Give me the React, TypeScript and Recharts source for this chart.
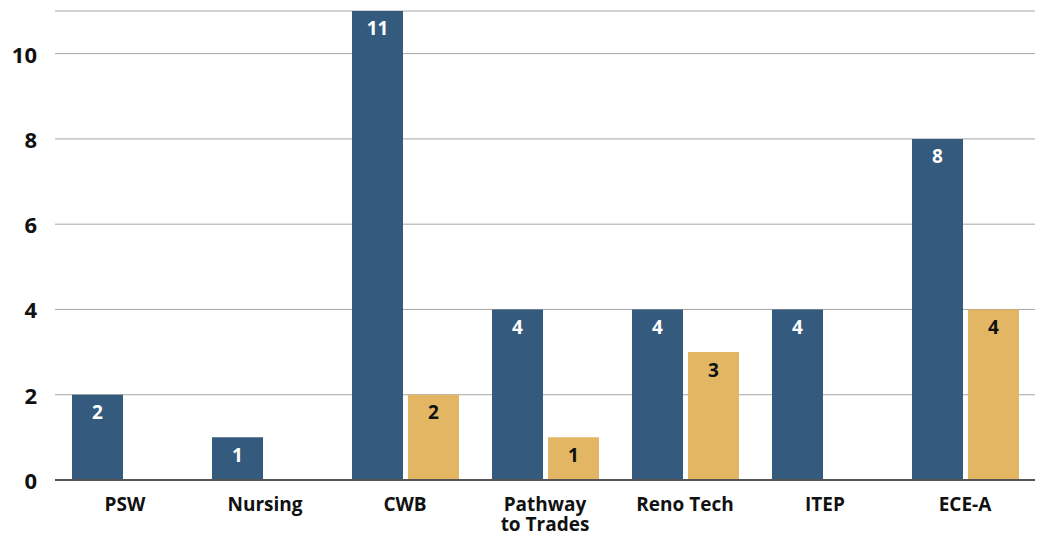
import { BarChart, Bar, XAxis, YAxis, CartesianGrid, LabelList, ReferenceLine } from 'recharts'

const programs = ['PSW', 'Nursing', 'CWB', 'Pathway to Trades', 'Reno Tech', 'ITEP', 'ECE-A']
const blueValues = [2, 1, 11, 4, 4, 4, 8]
const goldValues: (number | null)[] = [null, null, 2, 1, 3, null, 4]
const yTicks = [0, 2, 4, 6, 8, 10]

const FONT = '"Open Sans", sans-serif'

const chartData = programs.map((p, i) => ({
  program: p,
  blue: blueValues[i],
  gold: goldValues[i],
}))

function ProgramTick({ x, y, payload }: any) {
  const name: string = payload.value
  // long names go on two lines: first word, then the rest
  const lines = name.length > 12 ? [name.split(' ')[0], name.split(' ').slice(1).join(' ')] : [name]
  return (
    <text x={x} y={y} textAnchor="middle" fontFamily={FONT} fontWeight={700} fontSize={19} fill="#111">
      {lines.map((l, i) => (
        <tspan key={i} x={x} dy={i === 0 ? 23 : 20}>{l}</tspan>
      ))}
    </text>
  )
}

function ValueTick({ x, y, payload }: any) {
  return (
    <text x={x} y={y} dy={9} textAnchor="end" fontFamily={FONT} fontWeight={700} fontSize={22} fill="#111">
      {payload.value}
    </text>
  )
}

export default function App() {
  return (
    <div style={{ position: 'absolute', left: 0, top: 0, background: '#fff' }}>
      <BarChart
        width={1040}
        height={535}
        data={chartData}
        margin={{ top: 11, right: 5, left: 0, bottom: 5 }}
        barSize={51}
        barGap={5}
      >
        <CartesianGrid vertical={false} stroke="#a6a6a6" strokeWidth={1} />
        <XAxis
          dataKey="program"
          axisLine={false}
          tickLine={false}
          tick={<ProgramTick />}
          height={50}
          interval={0}
        />
        <YAxis
          domain={[0, 11]}
          ticks={yTicks}
          axisLine={false}
          tickLine={false}
          tickSize={0}
          tickMargin={18}
          width={55}
          tick={<ValueTick />}
        />
        <Bar dataKey="blue" fill="#345a7e" isAnimationActive={false}>
          <LabelList dataKey="blue" position="insideTop" offset={11} fill="#fff" fontFamily={FONT} fontWeight={700} fontSize={19} />
        </Bar>
        <Bar dataKey="gold" fill="#e2b662" isAnimationActive={false}>
          <LabelList dataKey="gold" position="insideTop" offset={11} fill="#111" fontFamily={FONT} fontWeight={700} fontSize={19} />
        </Bar>
        <ReferenceLine y={0} stroke="#555" strokeWidth={2} />
      </BarChart>
    </div>
  )
}
